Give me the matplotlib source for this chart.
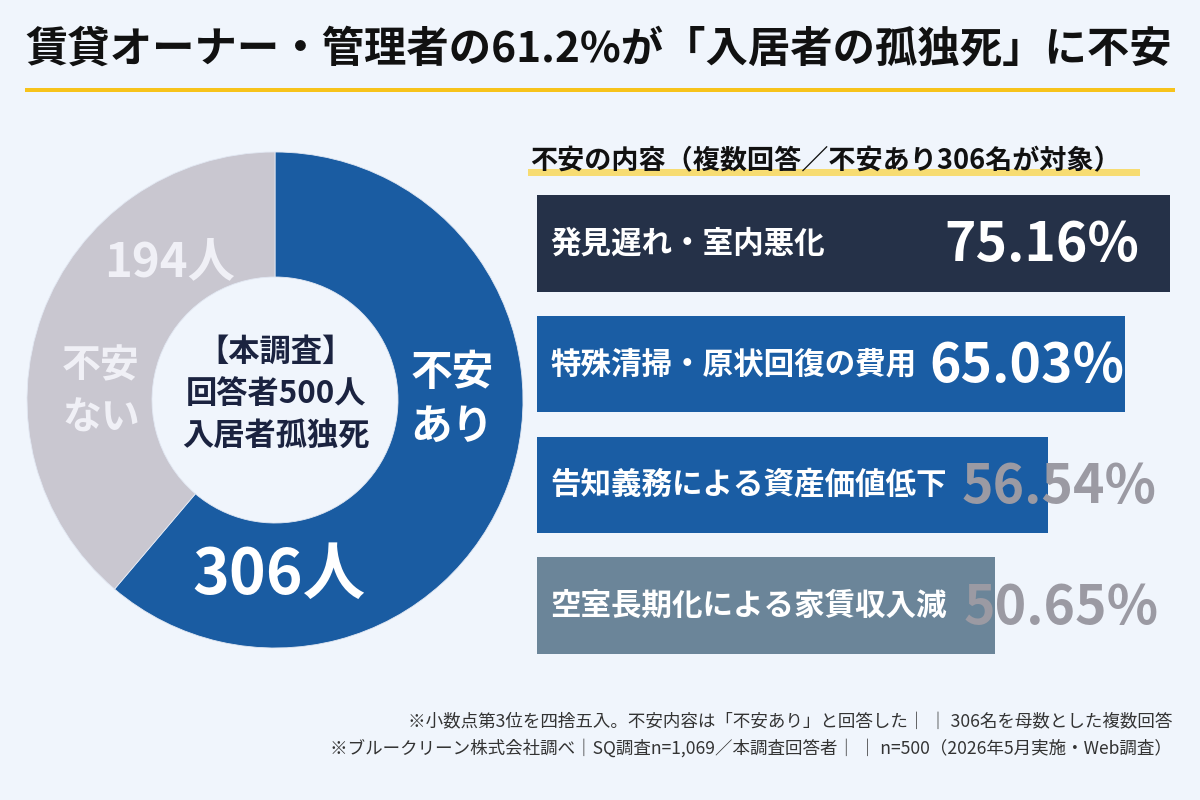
import matplotlib
matplotlib.use("Agg")
import matplotlib.pyplot as plt
from matplotlib.patches import Rectangle

plt.rcParams['font.family'] = ['Noto Sans CJK JP', 'DejaVu Sans']

# ---- data ----
title = "賃貸オーナー・管理者の61.2%が「入居者の孤独死」に不安"
donut_labels = ["不安あり", "不安ない"]
donut_counts = [306, 194]
center_lines = ["【本調査】", "回答者500人", "入居者孤独死"]
bar_title = "不安の内容（複数回答／不安あり306名が対象）"
bar_categories = ["発見遅れ・室内悪化", "特殊清掃・原状回復の費用",
                  "告知義務による資産価値低下", "空室長期化による家賃収入減"]
bar_values = [75.16, 65.03, 56.54, 50.65]
footnotes = [
    "※小数点第3位を四捨五入。不安内容は「不安あり」と回答した｜ ｜ 306名を母数とした複数回答",
    "※ブルークリーン株式会社調べ｜SQ調査n=1,069／本調査回答者｜ ｜ n=500（2026年5月実施・Web調査）",
]

# ---- style ----
BG = "#f0f5fc"
W, H = 1200, 800
fig = plt.figure(figsize=(12, 8), dpi=100, facecolor=BG)

# overlay axes in pixel coords
ov = fig.add_axes([0, 0, 1, 1], zorder=0)
ov.set_xlim(0, W)
ov.set_ylim(H, 0)
ov.axis("off")
ov.set_facecolor(BG)

ov.text(25, 50, title, fontsize=30.5, fontweight="bold", color="#111111",
        ha="left", va="center")
ov.add_patch(Rectangle((25, 88), 1150, 4, color="#f7c31b", lw=0))

# subtitle with highlight
ov.add_patch(Rectangle((528, 169), 612, 7, color="#f9d85a", lw=0, alpha=0.85))
ov.text(530, 161, bar_title, fontsize=19.5, fontweight="bold", color="#111111",
        ha="left", va="center")

for i, line in enumerate(footnotes):
    ov.text(1172, 722 + i * 26, line, fontsize=12.6, color="#333333",
            ha="right", va="center")

# ---- donut ----
cx, cy, R = 275, 400, 248
dax = fig.add_axes([(cx - R) / W, 1 - (cy + R) / H, 2 * R / W, 2 * R / H], zorder=1)
dax.pie(donut_counts, colors=["#1a5ca2", "#c9c7d0"], startangle=90,
        counterclock=False, radius=1,
        wedgeprops=dict(width=1 - 123 / 248, edgecolor="#e2e8f3", linewidth=0.6))
dax.set_xlim(-1, 1)
dax.set_ylim(-1, 1)
dax.set_aspect("equal")
dax.axis("off")

# donut text layer
tax = fig.add_axes([0, 0, 1, 1], zorder=2)
tax.set_xlim(0, W)
tax.set_ylim(H, 0)
tax.axis("off")
tax.patch.set_alpha(0)

tax.text(452, 400, "不安\nあり", fontsize=30, fontweight="bold", color="white",
         ha="center", va="center", linespacing=1.35)
tax.text(279, 575, f"{donut_counts[0]}人", fontsize=45, fontweight="bold",
         color="white", ha="center", va="center")
tax.text(170, 262, f"{donut_counts[1]}人", fontsize=34, fontweight="bold",
         color="#f0f0f6", ha="center", va="center")
tax.text(101, 392, "不安\nない", fontsize=28, fontweight="bold", color="#f0f0f6",
         ha="center", va="center", linespacing=1.4)
for i, line in enumerate(center_lines):
    tax.text(276, 352 + i * 42, line, fontsize=22.5, fontweight="bold",
             color="#1b2340", ha="center", va="center")

# ---- bars ----
bx0, bx1, by0, by1 = 537, 1170, 195, 654
bax = fig.add_axes([bx0 / W, 1 - by1 / H, (bx1 - bx0) / W, (by1 - by0) / H], zorder=1)
bax.set_xlim(0, 70)
bax.set_ylim(3.4, -0.4)
bax.axis("off")
bax.patch.set_alpha(0)
bar_colors = ["#253148", "#1a5da4", "#1a5da4", "#6b8599"]
ypos = list(range(len(bar_values)))
bax.barh(ypos, bar_values, height=0.8, color=bar_colors, lw=0)

value_colors = ["white", "white", "#9b9aa3", "#9b9aa3"]
value_right = [66.6, 65.0, 68.5, 68.8]
for y, cat, v, vc, vr in zip(ypos, bar_categories, bar_values, value_colors, value_right):
    bax.text(1.45, y, cat, fontsize=22, fontweight="bold", color="white",
             ha="left", va="center")
    bax.text(vr, y + 0.02, f"{v:.2f}%", fontsize=38.5, fontweight="bold",
             color=vc, ha="right", va="center", clip_on=False)

fig.savefig("out.png", dpi=100, facecolor=BG)
